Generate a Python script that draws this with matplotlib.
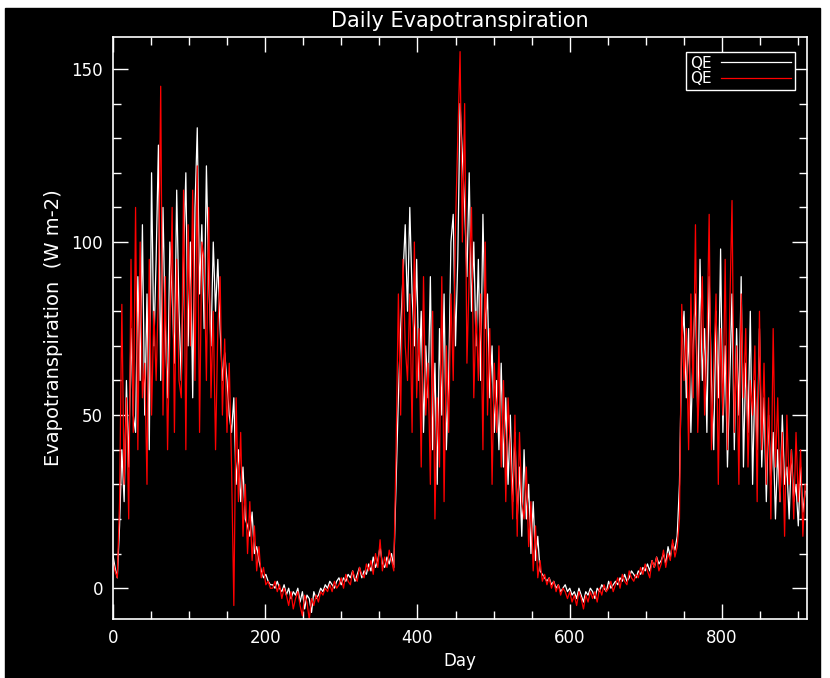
import numpy as np
import matplotlib
matplotlib.use('Agg')
import matplotlib.pyplot as plt
from matplotlib.patches import Rectangle

# daily latent heat flux, one value every 3 days (day 0 .. 909)
day_step = 3
qe_white = [
    10, 6, 3, 18, 40, 25, 60, 35, 75, 50,
    45, 90, 60, 105, 50, 85, 40, 120, 70, 95,
    128, 60, 110, 75, 55, 100, 85, 65, 115, 80,
    60, 95, 120, 70, 100, 55, 110, 133, 85, 105,
    75, 122, 90, 70, 100, 80, 95, 75, 60, 68,
    60, 50, 45, 55, 30, 40, 25, 35, 20, 18,
    15, 22, 10, 12, 8, 5, 3, 4, 2, 1,
    1, 0, 2, 0, -1, 1, -2, 0, -3, -1,
    -2, 0, -4, -1, -6, -2, -3, -7, -1, -3,
    -2, 0, -1, 1, 0, 2, 1, 0, 2, 3,
    1, 3, 2, 4, 3, 5, 2, 4, 6, 3,
    5, 4, 7, 5, 9, 6, 8, 12, 7, 6,
    9, 7, 10, 6, 30, 55, 75, 90, 105, 80,
    110, 85, 70, 95, 60, 80, 45, 70, 55, 90,
    40, 65, 30, 75, 50, 85, 40, 60, 100, 108,
    70, 95, 140, 125, 110, 90, 120, 80, 100, 70,
    95, 60, 108, 75, 85, 55, 70, 45, 60, 40,
    65, 35, 55, 30, 50, 25, 45, 20, 35, 15,
    40, 20, 30, 10, 25, 8, 15, 5, 4, 3,
    2, 3, 1, 2, 0, 1, -1, 0, 1, -1,
    0, -2, -1, -3, 0, -2, -4, -1, -2, 0,
    -1, -3, 0, -1, 1, 0, -1, 2, 0, 1,
    2, 1, 3, 2, 4, 2, 3, 5, 4, 3,
    5, 4, 6, 5, 7, 5, 8, 6, 9, 7,
    8, 10, 7, 12, 9, 13, 11, 15, 30, 70,
    80, 55, 75, 45, 70, 85, 50, 95, 60, 75,
    45, 90, 60, 40, 80, 55, 98, 45, 70, 35,
    60, 85, 40, 75, 50, 90, 35, 65, 45, 80,
    30, 60, 40, 75, 35, 55, 25, 50, 30, 45,
    20, 40, 25, 50, 30, 35, 20, 40, 25, 30,
    18, 35, 22, 28,
]
qe_red = [
    8, 5, 3, 25, 82, 30, 55, 20, 95, 45,
    110, 40, 100, 55, 65, 30, 95, 50, 80, 60,
    85, 145, 50, 90, 40, 75, 110, 45, 95, 60,
    55, 115, 40, 105, 70, 115, 60, 122, 45, 100,
    95, 60, 110, 55, 80, 40, 75, 90, 50, 72,
    45, 65, 35, -5, 55, 25, 45, 15, 30, 10,
    25, 8, 18, 5, 12, 3, 6, 1, 2, 0,
    0, 2, -1, 1, -3, 0, -2, -5, -1, -6,
    -3, -1, -5, -8, -2, -4, -9, -3, -5, -2,
    -4, -1, -2, 0, -1, 1, -1, 2, 0, 1,
    3, 0, 4, 2, 1, 5, 3, 2, 6, 4,
    3, 7, 5, 8, 4, 10, 6, 14, 5, 9,
    6, 11, 8, 5, 40, 85, 50, 95, 70, 60,
    85, 45, 100, 55, 75, 35, 90, 50, 65, 30,
    80, 20, 55, 35, 90, 25, 70, 45, 85, 60,
    105, 130, 155, 100, 140, 65, 90, 110, 55, 80,
    60, 85, 40, 100, 50, 75, 30, 65, 45, 70,
    35, 60, 25, 55, 40, 20, 50, 15, 45, 25,
    20, 35, 12, 25, 5, 18, 3, 8, 2, 4,
    1, 3, 0, 2, -1, 1, -2, 0, -1, -3,
    -1, -4, -2, -5, -1, -3, -6, -2, -4, -1,
    -3, -1, -4, 0, -2, 1, -1, 0, 2, -1,
    1, 3, 0, 4, 2, 1, 5, 3, 2, 4,
    3, 6, 4, 7, 5, 3, 8, 6, 9, 5,
    7, 11, 6, 10, 8, 14, 9, 12, 20, 82,
    60, 75, 40, 85, 55, 105, 45, 65, 90, 50,
    70, 108, 40, 65, 85, 30, 75, 50, 95, 40,
    80, 112, 45, 70, 30, 85, 55, 75, 35, 60,
    50, 70, 25, 80, 40, 65, 30, 55, 20, 75,
    35, 55, 25, 45, 15, 50, 30, 40, 20, 45,
    25, 40, 15, 30,
]
legend_labels = ['QE', 'QE']

days = np.arange(len(qe_white)) * day_step

plt.rcParams['font.family'] = ['DejaVu Sans']

fig = plt.figure(figsize=(8.3, 6.78), dpi=100, facecolor='white')
# black canvas inside a thin white border
fig.add_artist(Rectangle((5 / 830, 0), 815 / 830, 670 / 678,
                         transform=fig.transFigure, color='black', zorder=0))

ax = fig.add_axes([0.1358, 0.0870, 0.8361, 0.8588])
ax.set_facecolor('black')

ax.plot(days, qe_white, color='white', lw=0.9, label=legend_labels[0])
ax.plot(days, qe_red, color='#ff0000', lw=0.9, label=legend_labels[1])

ax.set_xlim(0, 911)
ax.set_ylim(-8.9, 159.3)
ax.set_xticks([0, 200, 400, 600, 800])
ax.set_xticks(np.arange(0, 911, 50), minor=True)
ax.set_yticks([0, 50, 100, 150])
ax.set_yticks(np.arange(-0, 160, 10), minor=True)

for s in ax.spines.values():
    s.set_color('white')
    s.set_linewidth(1.2)
ax.tick_params(which='both', direction='in', top=True, right=True,
               colors='white', labelsize=12, width=1)
ax.tick_params(which='major', length=11, pad=7)
ax.tick_params(which='minor', length=5.5)

ax.set_title('Daily Evapotranspiration', color='white', fontsize=15, pad=7)
ax.set_xlabel('Day', color='white', fontsize=12, labelpad=4)
ax.set_ylabel('Evapotranspiration  (W m-2)', color='white', fontsize=14,
              labelpad=6)

leg = ax.legend(loc='upper right', bbox_to_anchor=(0.983, 0.974),
                borderaxespad=0, fancybox=False, markerfirst=False,
                handlelength=4.6, handletextpad=0.6, labelspacing=0.05,
                borderpad=0.25, fontsize=11, framealpha=1)
leg.get_frame().set_facecolor('black')
leg.get_frame().set_edgecolor('white')
for t in leg.get_texts():
    t.set_color('white')

fig.savefig('out.png', dpi=100, facecolor=fig.get_facecolor())
